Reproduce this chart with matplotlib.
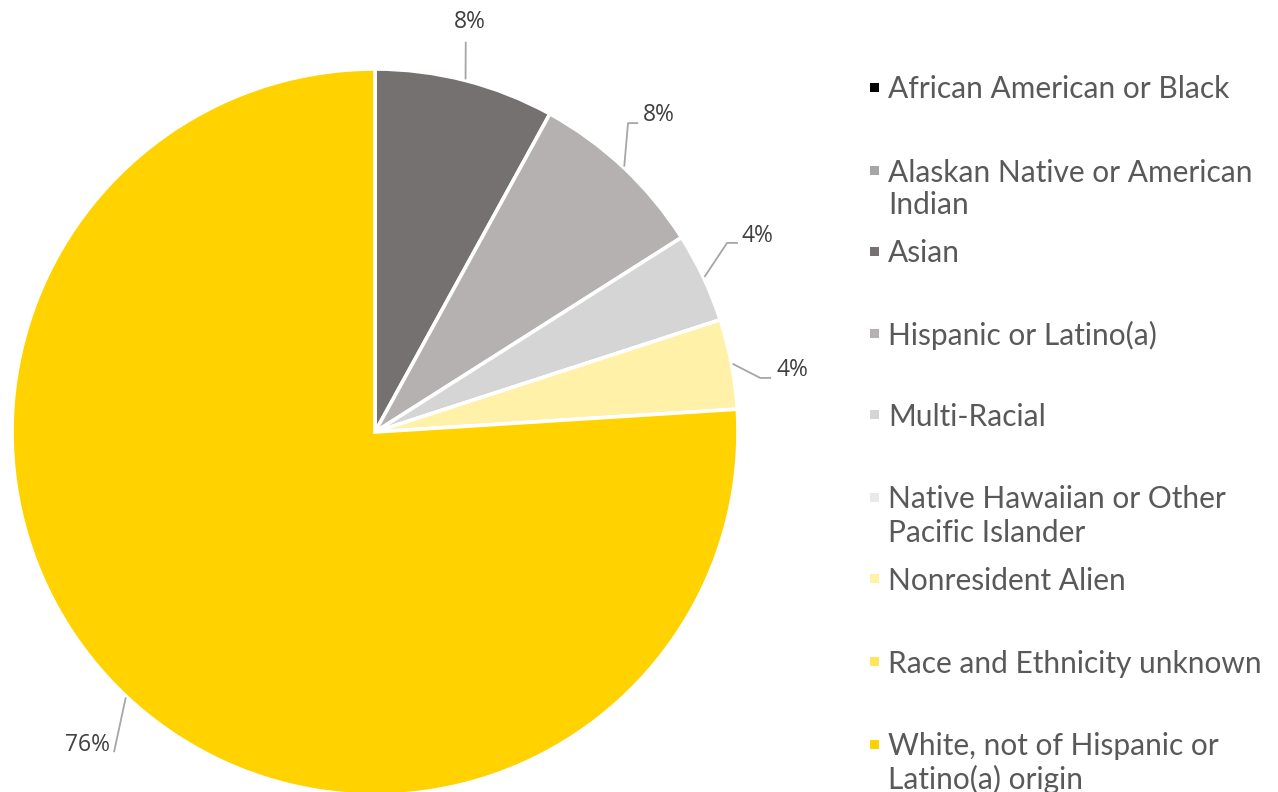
import numpy as np
import matplotlib
matplotlib.use("Agg")
import matplotlib.pyplot as plt
from matplotlib.patches import Rectangle

categories = [
    "African American or Black",
    "Alaskan Native or American\nIndian",
    "Asian",
    "Hispanic or Latino(a)",
    "Multi-Racial",
    "Native Hawaiian or Other\nPacific Islander",
    "Nonresident Alien",
    "Race and Ethnicity unknown",
    "White, not of Hispanic or\nLatino(a) origin",
]
shares = [0, 0, 8, 8, 4, 0, 4, 0, 76]
colors = ["#000000", "#a6a6a6", "#767171", "#b4b1b0", "#d6d5d5",
          "#e9e9e9", "#fff2a8", "#ffe55c", "#ffd200"]

W, H = 1278, 792
fig = plt.figure(figsize=(W / 100, H / 100), dpi=100)

# pie box in pixels: centre (375, 432), radius 363
cx, cy, R = 375, 432, 363
ax = fig.add_axes([(cx - R) / W, (H - cy - R) / H, 2 * R / W, 2 * R / H])
ax.axis("off")

wedges, _ = ax.pie(shares, colors=colors, startangle=90, counterclock=False,
                   radius=1, center=(0, 0), frame=False,
                   wedgeprops=dict(edgecolor="white", linewidth=2.6))
ax.set_xlim(-1, 1)
ax.set_ylim(-1, 1)
ax.set_aspect("auto")

# label placement for the nonzero slices: elbow path and text anchor
label_layout = {
    2: dict(path=[(0.250, 1.075)], text=(0.262, 1.13), ha="center"),
    3: dict(path=[(0.697, 0.851), (0.725, 0.851)], text=(0.738, 0.873), ha="left"),
    4: dict(path=[(0.970, 0.521), (1.000, 0.521)], text=(1.011, 0.540), ha="left"),
    6: dict(path=[(1.061, 0.149), (1.091, 0.149)], text=(1.105, 0.171), ha="left"),
    8: dict(path=[(-0.719, -0.882)], text=(-0.730, -0.862), ha="right"),
}

for i, w in enumerate(wedges):
    if shares[i] == 0:
        continue
    mid = np.deg2rad((w.theta1 + w.theta2) / 2)
    ex, ey = np.cos(mid), np.sin(mid)
    lay = label_layout[i]
    pts = [(ex * 1.003, ey * 1.003)] + lay["path"]
    xs, ys = zip(*pts)
    ax.plot(xs, ys, color="#a6a6a6", lw=1.3, clip_on=False, solid_capstyle="butt")
    ax.text(*lay["text"], f"{shares[i]}%", ha=lay["ha"], va="center",
            fontsize=16.5, family="Open Sans", color="#404040", clip_on=False)

# legend column (pixel positions of each entry's first line)
legend_x_marker = 870
legend_x_text = 888
row_centers = [87, 170, 251, 333, 414, 497, 578, 661, 744]
line_step = 33
sq = 9
for lab, col, y in zip(categories, colors, row_centers):
    for k, line in enumerate(lab.split("\n")):
        fig.text(legend_x_text / W, 1 - (y + k * line_step) / H, line,
                 ha="left", va="center_baseline", fontsize=21.5, family="Lato",
                 color="#595959")
    fig.patches.append(Rectangle((legend_x_marker / W, 1 - (y + sq / 2) / H),
                                 sq / W, sq / H, transform=fig.transFigure,
                                 facecolor=col, edgecolor="none"))

fig.savefig("out.png", dpi=100)
